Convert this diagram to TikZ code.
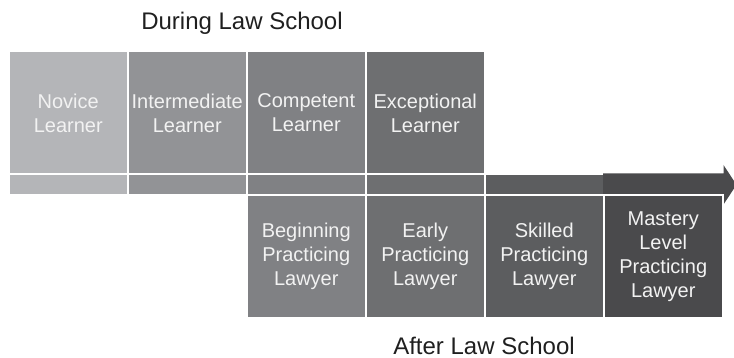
\documentclass[tikz,border=0pt]{standalone}
\usepackage{fontspec}
\setmainfont{Liberation Sans}
\usepackage{xcolor}

% greys for the six levels
\definecolor{lvlA}{HTML}{B4B5B8}
\definecolor{lvlB}{HTML}{929396}
\definecolor{lvlC}{HTML}{808184}
\definecolor{lvlD}{HTML}{6E6F71}
\definecolor{lvlE}{HTML}{5C5D5F}
\definecolor{lvlF}{HTML}{4A4A4C}

\begin{document}
\begin{tikzpicture}[x=1pt, y=-1pt, every node/.style={font=\fontsize{20}{24}\selectfont}]
    \tikzset{
        cell/.style={draw=white, line width=1.5pt, inner sep=0pt, anchor=north west,
            minimum width=119pt, align=center, text=white!95!black},
        stage/.style={cell, minimum height=122.5pt},
        band/.style={cell, minimum height=21pt},
        heading/.style={font=\fontsize{24}{28}\selectfont, text=black!88, anchor=base, inner sep=0pt}
    }
    \useasboundingbox (0,0) rectangle (734,358);

    % During law school
    \node[heading] (during) at (242,30) {During Law School};
    \foreach \i/\x/\c/\t in {1/8/lvlA/{Novice\\Learner}, 2/127/lvlB/{Intermediate\\Learner},
                             3/246/lvlC/{Competent\\Learner}, 4/365/lvlD/{Exceptional\\Learner}} {
        \node[stage, fill=\c] (top\i) at (\x,51) {\t};
    }

    % Timeline band
    \foreach \i/\x/\c in {1/8/lvlA, 2/127/lvlB, 3/246/lvlC, 4/365/lvlD, 5/484/lvlE} {
        \node[band, fill=\c] (band\i) at (\x,173.5) {};
    }
    \node[band, draw=none] (band6) at (603,173.5) {};
    \coordinate (tip) at ([xshift=13pt]band6.east);
    \fill[lvlF] (band6.north west) -- (band6.north east) -- ([yshift=8.5pt]band6.north east)
        -- (tip) -- ([yshift=-8.5pt]band6.south east) -- (band6.south east)
        -- (band6.south west) -- cycle;

    % After law school
    \foreach \i/\x/\c/\t in {3/246/lvlC/{Beginning\\Practicing\\Lawyer}, 4/365/lvlD/{Early\\Practicing\\Lawyer},
                             5/484/lvlE/{Skilled\\Practicing\\Lawyer}, 6/603/lvlF/{Mastery\\Level\\Practicing\\Lawyer}} {
        \node[stage, fill=\c] (low\i) at (\x,194.5) {\t};
    }
    \node[heading] (after) at (484,354) {After Law School};
\end{tikzpicture}
\end{document}
